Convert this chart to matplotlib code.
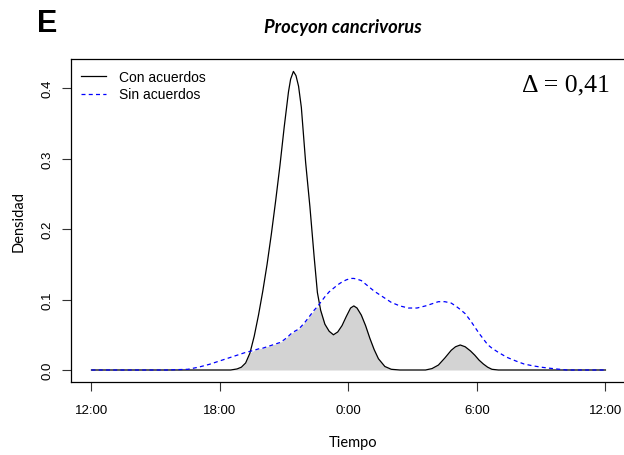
import numpy as np
import matplotlib
matplotlib.use("Agg")
import matplotlib.pyplot as plt

# hours after 12:00 (0 = 12:00, 12 = 0:00, 24 = 12:00 next day)
hours = [0, 3.5, 4.5, 5.0, 5.5, 6.0, 6.5, 6.8, 7.0, 7.2, 7.4, 7.6, 7.8, 8.0, 8.2, 8.4,
         8.6, 8.8, 9.0, 9.2, 9.3, 9.43, 9.55, 9.67, 9.8, 10.0, 10.2, 10.4, 10.55, 10.7,
         10.9, 11.1, 11.3, 11.5, 11.7, 11.9, 12.1, 12.25, 12.4, 12.6, 12.8, 13.0, 13.2,
         13.4, 13.7, 14.0, 14.4, 14.8, 15.2, 15.6, 15.9, 16.2, 16.5, 16.8, 17.0, 17.22,
         17.45, 17.7, 17.9, 18.1, 18.3, 18.5, 18.7, 19.0, 19.4, 19.8, 20.2, 20.6, 21.0,
         21.4, 21.8, 22.2, 24]

con_acuerdos = [0, 0, 0, 0, 0, 0, 0, 0.0015, 0.004, 0.010, 0.024, 0.048, 0.078, 0.112,
                0.150, 0.193, 0.240, 0.290, 0.345, 0.395, 0.413, 0.424, 0.418, 0.403,
                0.373, 0.295, 0.232, 0.160, 0.110, 0.085, 0.065, 0.055, 0.050, 0.054,
                0.063, 0.076, 0.088, 0.091, 0.088, 0.078, 0.063, 0.045, 0.029, 0.016,
                0.005, 0.001, 0, 0, 0, 0, 0.002, 0.007, 0.017, 0.028, 0.033, 0.0355,
                0.033, 0.027, 0.021, 0.014, 0.0085, 0.004, 0.001, 0, 0, 0, 0, 0, 0,
                0, 0, 0, 0]

sin_acuerdos = [0, 0, 0.001, 0.004, 0.008, 0.013, 0.018, 0.021, 0.023, 0.025, 0.0265,
                0.028, 0.030, 0.031, 0.033, 0.035, 0.037, 0.039, 0.043, 0.048, 0.051,
                0.054, 0.056, 0.058, 0.062, 0.069, 0.077, 0.085, 0.090, 0.096, 0.104,
                0.111, 0.116, 0.121, 0.125, 0.128, 0.130, 0.130, 0.129, 0.127, 0.122,
                0.117, 0.112, 0.108, 0.102, 0.096, 0.091, 0.088, 0.088, 0.091, 0.094,
                0.097, 0.097, 0.095, 0.091, 0.086, 0.080, 0.070, 0.061, 0.052, 0.044,
                0.036, 0.031, 0.025, 0.018, 0.013, 0.0085, 0.006, 0.004, 0.0025, 0.0012,
                0, 0]

tick_hours = [0, 6, 12, 18, 24]
tick_labels = ["12:00", "18:00", "0:00", "6:00", "12:00"]
y_ticks = [0.0, 0.1, 0.2, 0.3, 0.4]
delta = "0,41"

W, H = 624, 456
fig = plt.figure(figsize=(W / 100, H / 100), dpi=100)
# plot region in pixels (right edge is cut off by the image border)
left, right, top, bottom = 70.9, 626, 60, 383
ax = fig.add_axes([left / W, 1 - bottom / H, (right - left) / W, (bottom - top) / H])

x = np.array(hours)
a = np.array(con_acuerdos)
b = np.array(sin_acuerdos)

ax.fill_between(x, np.minimum(a, b), 0, color="#d3d3d3", lw=0)
ax.plot(x, a, color="black", lw=0.9, label="Con acuerdos")
ax.plot(x, b, color="blue", lw=0.9, dashes=(3.2, 2.6), label="Sin acuerdos")

ax.set_xlim(-0.96, 24.96)
ax.set_ylim(-0.01704, 0.4416)
ax.set_xticks(tick_hours)
ax.set_xticklabels(tick_labels, fontsize=9.5, family="Liberation Sans")
ax.set_yticks(y_ticks)
ax.set_yticklabels(["%.1f" % v for v in y_ticks], fontsize=9.5, family="Liberation Sans",
                   rotation=90, va="center")
ax.tick_params(axis="both", direction="out", length=6.5, width=0.8, color="#333333")
ax.tick_params(axis="x", pad=9)
ax.tick_params(axis="y", pad=6)
for s in ax.spines.values():
    s.set_linewidth(0.9)

leg = ax.legend(loc="upper left", bbox_to_anchor=(81 / W, 1 - 71 / H),
                bbox_transform=fig.transFigure, frameon=False, borderpad=0,
                borderaxespad=0, handlelength=1.8, handletextpad=0.95,
                labelspacing=0.25, prop={"family": "Liberation Sans", "size": 10})

fig.text(18.5 / W, 1 - 222 / H, "Densidad", rotation=90, ha="center", va="center",
         family="Lato", fontsize=10.5)
fig.text(353 / W, 1 - 443 / H, "Tiempo", ha="center", va="center", family="Lato",
         fontsize=10.5)
fig.text(343 / W, 1 - 28 / H, "Procyon cancrivorus", ha="center", va="center",
         family="Lato", fontsize=13.2, fontweight="bold", fontstyle="italic")
fig.text(37 / W, 1 - 32 / H, "E", ha="left", va="baseline", family="Liberation Sans",
         fontsize=22, fontweight="bold")
fig.text(610 / W, 1 - 91.5 / H, "\u0394 = " + delta, ha="right", va="baseline",
         family="Liberation Serif", fontsize=18.5)

fig.savefig("out.png", dpi=100)
